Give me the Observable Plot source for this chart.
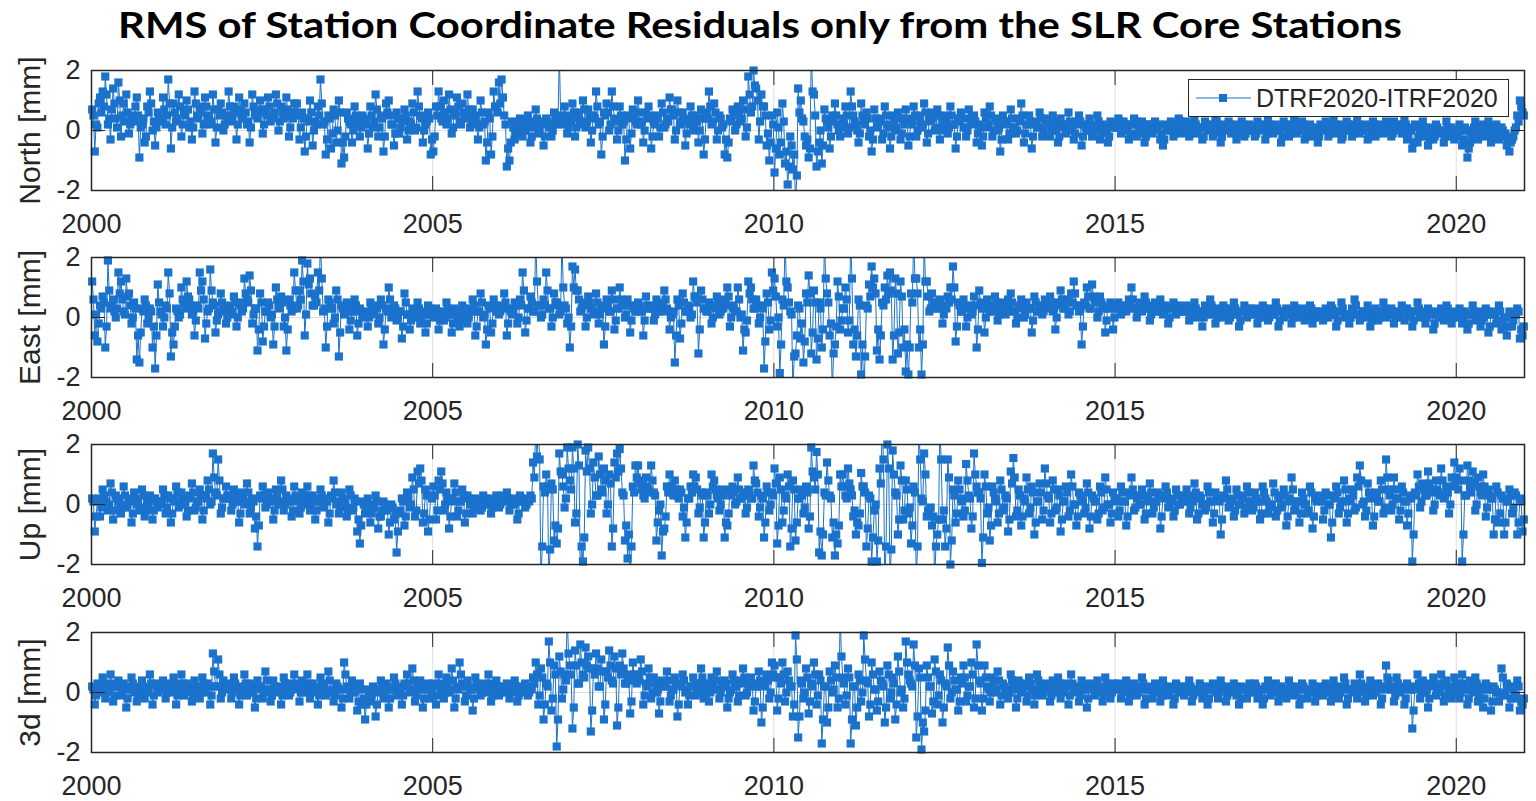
<!DOCTYPE html>
<html><head><meta charset="utf-8">
<script src="https://cdn.jsdelivr.net/npm/d3@7"></script>
<script src="https://cdn.jsdelivr.net/npm/@observablehq/plot@0.6"></script>
<style>
html,body{margin:0;padding:0;background:#fff;}
body{width:1536px;height:801px;overflow:hidden;position:relative;font-family:"Liberation Sans",Arial,Helvetica,sans-serif;}
.panel{position:absolute;left:0;}
#legend{position:absolute;left:1188px;top:79px;width:321px;height:38px;box-sizing:border-box;border:1.3px solid #262626;background:#fff;display:flex;align-items:center;z-index:5;}
#legend span{font-size:25px;color:#262626;white-space:nowrap;}
</style>
</head><body>
<svg id="title" width="1536" height="56" style="position:absolute;left:0;top:0">
  <text x="760" y="38" text-anchor="middle" font-family="Lato, 'Open Sans', sans-serif" font-weight="700" font-size="36" fill="#000" textLength="1284" lengthAdjust="spacingAndGlyphs">RMS of Station Coordinate Residuals only from the SLR Core Stations</text>
</svg>
<div id="charts"></div>
<div id="legend">
  <svg width="67" height="36"><line x1="7" y1="18" x2="62" y2="18" stroke="#1a72cc" stroke-width="1.2"/><rect x="30" y="14" width="8" height="8" fill="#1a72cc"/></svg>
  <span>DTRF2020-ITRF2020</span>
</div>
<script>
// ---- data: weekly solutions 2000.0 – 2021.0, stored as odd weeks (A) and even weeks (B), 26 of each per year ----
const startYear = 2000;
const weeksPerYear = 52;
const xTicks = [2000, 2005, 2010, 2015, 2020];
const yTicks = [-2, 0, 2];
const seriesName = "DTRF2020-ITRF2020";
const panelLabels = ["North [mm]", "East [mm]", "Up [mm]", "3d [mm]"];

const northA = [
0.7,-0.7,0.1,1.1,1.3,1.8,0.2,-0.3,1.4,0.4,1.6,-0.2,0.9,1.2,-0.1,0.5,0.3,1.1,-0.9,0.2,-0.4,0.8,1.3,0.0,-0.5,0.6,
0.4,1.1,0.2,1.7,-0.6,0.9,0.3,1.2,-0.2,0.6,1.0,0.1,-0.3,1.3,0.5,0.8,-0.1,1.1,0.4,0.2,1.2,-0.4,0.7,0.9,0.0,0.5,
1.3,0.3,0.8,-0.3,1.1,0.5,0.9,0.2,-0.4,1.2,0.6,0.4,1.0,-0.1,0.7,1.1,0.3,0.5,1.2,0.0,0.8,0.4,1.1,-0.2,0.6,0.9,
0.9,-0.3,0.6,-0.7,0.4,1.0,-0.5,0.3,0.8,1.7,0.2,-0.8,0.5,-0.6,0.7,-0.4,1.0,-1.1,-0.9,0.6,0.3,-0.4,0.8,0.2,-0.2,0.5,
0.3,-0.6,0.8,0.1,1.2,-0.2,0.5,-0.7,0.9,1.0,0.2,-0.5,0.6,-0.1,0.4,0.7,-0.3,0.3,0.9,0.0,1.3,0.5,-0.4,0.2,0.6,-0.8,
-0.7,0.8,1.3,0.4,1.0,0.2,1.2,-0.1,0.6,1.1,0.3,0.9,0.5,1.2,0.1,0.7,0.4,-0.3,1.0,0.2,-1.0,0.6,-0.8,1.3,0.8,1.6,
1.7,0.5,-1.2,-1.0,0.3,-0.3,0.1,0.4,-0.2,0.0,0.5,-0.4,0.2,0.7,-0.1,0.3,-0.5,0.4,0.1,-0.2,0.6,0.2,2.6,0.3,0.8,-0.1,
0.4,0.9,-0.2,0.6,0.3,1.0,0.1,0.7,-0.4,0.5,1.3,0.2,-0.8,0.6,0.9,0.0,1.3,0.4,-0.3,0.8,0.2,-1.0,0.5,-0.6,0.7,0.3,
1.0,0.2,-0.4,0.6,0.8,-0.6,0.3,0.5,-0.2,0.9,0.1,0.4,1.1,0.7,-0.3,1.0,0.2,0.6,-0.5,0.3,0.8,0.0,0.5,-0.4,0.7,-0.8,
0.6,1.3,0.2,0.9,-0.3,0.5,0.1,-0.8,-0.9,0.4,0.7,0.0,0.8,0.3,1.0,-0.2,1.8,0.6,2.0,1.4,-0.3,1.2,0.8,-0.5,-1.0,0.5,
-1.4,0.6,-0.8,0.9,-1.1,-1.8,-0.2,-1.3,-2.5,1.4,1.0,0.3,-0.5,-0.9,2.6,1.2,-1.2,-0.4,-1.1,0.7,0.3,-0.6,0.5,0.9,0.2,-0.2,
0.4,0.8,-0.1,1.3,0.5,0.2,-0.4,0.9,0.3,0.6,-0.2,-0.7,0.7,0.1,0.4,-0.3,0.8,0.2,-0.6,0.5,0.0,0.6,-0.3,0.4,0.7,-0.5,
0.3,0.8,-0.2,0.5,0.1,0.9,-0.4,0.4,0.6,0.0,0.7,-0.3,0.3,0.5,-0.1,0.8,0.2,-0.6,0.4,0.6,0.1,-0.2,0.7,0.3,0.5,-0.4,
0.2,-0.5,0.6,0.1,0.8,-0.2,0.4,0.0,-0.7,0.5,0.3,-0.3,0.7,0.1,-0.1,0.4,0.9,-0.4,0.2,0.5,-0.6,0.3,0.1,0.6,-0.2,0.4,
0.3,-0.2,0.5,0.0,-0.4,0.4,0.2,-0.1,0.6,0.1,-0.3,0.3,0.5,-0.5,0.2,0.0,0.4,-0.2,0.1,0.5,-0.3,0.2,0.0,-0.4,0.3,0.1,
0.2,0.4,-0.1,0.3,0.0,-0.3,0.2,0.4,-0.2,0.1,0.3,-0.4,0.0,0.2,-0.1,0.3,0.1,-0.3,-0.5,0.2,0.0,0.3,-0.2,0.1,0.4,-0.1,
0.0,0.3,-0.2,0.2,0.4,-0.1,0.1,-0.3,0.3,0.0,0.2,-0.2,0.4,0.1,-0.4,0.2,0.0,0.3,-0.1,0.2,-0.3,0.1,0.3,-0.2,0.0,0.2,
0.1,-0.2,0.3,0.0,0.2,-0.3,0.4,0.1,-0.1,0.2,0.0,-0.4,0.3,0.1,-0.2,0.2,0.4,-0.1,0.0,0.3,-0.3,0.1,0.2,-0.2,0.0,-0.4,
0.2,0.0,0.3,-0.2,0.1,0.4,-0.1,0.2,-0.3,0.0,0.3,0.1,-0.2,0.2,0.4,-0.1,0.0,0.2,-0.3,0.1,0.3,-0.2,0.0,0.2,-0.1,0.3,
0.1,-0.2,0.3,0.0,0.2,-0.1,0.4,-0.3,0.1,-0.6,0.2,-0.4,0.0,0.3,-0.2,-0.5,0.1,-0.3,0.2,-0.1,0.0,-0.4,0.3,-0.2,0.1,-0.3,
-0.2,0.2,-0.5,0.1,-0.9,-0.4,0.0,0.3,-0.3,-0.1,0.2,-0.2,0.3,-0.4,0.0,0.2,-0.3,0.1,-0.2,-0.5,-0.7,-0.3,0.0,0.5,1.0,0.6
];
const northB = [
0.5,0.2,0.9,0.6,0.8,1.2,0.4,0.7,0.9,0.1,1.0,0.5,0.3,0.6,0.2,0.4,0.8,0.5,0.1,0.4,-0.2,0.6,0.9,0.3,0.1,0.4,
0.3,0.7,0.5,0.9,0.1,0.6,0.4,0.8,0.2,0.5,0.7,0.3,0.1,0.9,0.4,0.6,0.2,0.8,0.5,0.3,0.7,0.1,0.5,0.6,0.2,0.4,
0.8,0.5,0.6,0.2,0.7,0.4,0.6,0.3,0.1,0.8,0.5,0.6,0.7,0.2,0.5,0.8,0.4,0.6,0.9,0.3,0.6,0.5,0.7,0.1,0.4,0.6,
0.5,0.1,0.4,-0.2,0.3,0.6,0.0,0.2,0.5,0.9,0.3,-0.3,0.4,-0.1,0.5,0.0,0.6,-0.4,-0.2,0.4,0.2,0.0,0.5,0.3,0.1,0.4,
0.2,-0.1,0.5,0.3,0.7,0.1,0.4,-0.2,0.6,0.5,0.2,-0.1,0.4,0.1,0.3,0.5,0.0,0.2,0.6,0.1,0.8,0.4,0.0,0.3,0.4,-0.3,
-0.2,0.5,0.8,0.3,0.6,0.4,0.7,0.1,0.5,0.8,0.2,0.6,0.4,0.7,0.3,0.5,0.2,0.1,0.6,0.3,-0.4,0.4,-0.2,0.8,0.6,0.9,
1.1,0.2,-0.6,-0.4,0.1,-0.1,0.2,0.3,0.0,0.1,0.3,-0.2,0.1,0.4,0.0,0.2,-0.2,0.3,0.2,0.0,0.4,0.3,0.5,0.2,0.5,0.1,
0.3,0.6,0.1,0.4,0.2,0.7,0.3,0.5,0.0,0.4,0.8,0.3,-0.2,0.5,0.6,0.2,0.8,0.3,0.0,0.5,0.3,-0.3,0.4,-0.1,0.5,0.2,
0.6,0.3,0.0,0.4,0.5,-0.2,0.2,0.4,0.1,0.6,0.2,0.3,0.7,0.5,0.0,0.6,0.3,0.4,-0.1,0.2,0.5,0.1,0.3,0.0,0.4,-0.3,
0.4,0.8,0.3,0.6,0.0,0.4,0.2,-0.3,-0.4,0.3,0.5,0.2,0.6,0.4,0.7,0.1,1.2,0.8,1.5,1.0,0.3,0.8,0.5,-0.1,-0.4,0.2,
-0.6,0.1,-0.4,0.3,-0.7,-1.2,-0.5,-0.8,-1.5,0.6,0.4,-0.2,-0.3,-0.6,1.3,0.5,-0.7,0.0,-0.5,0.4,0.1,-0.2,0.3,0.5,0.0,0.1,
0.2,0.5,0.1,0.8,0.3,0.0,-0.1,0.5,0.2,0.4,0.0,-0.3,0.4,0.2,0.3,-0.1,0.5,0.1,-0.2,0.3,0.1,0.4,-0.1,0.2,0.4,-0.2,
0.2,0.5,0.0,0.3,0.2,0.6,-0.1,0.3,0.4,0.1,0.5,0.0,0.2,0.3,0.1,0.5,0.2,-0.2,0.3,0.4,0.1,0.0,0.4,0.2,0.3,-0.1,
0.1,-0.2,0.4,0.2,0.5,0.0,0.3,0.1,-0.3,0.3,0.2,-0.1,0.4,0.1,0.0,0.3,0.5,-0.1,0.2,0.3,-0.2,0.2,0.1,0.4,0.0,0.2,
0.2,0.0,0.3,0.1,-0.2,0.2,0.1,0.0,0.3,0.1,-0.1,0.2,0.3,-0.2,0.1,0.0,0.2,-0.1,0.1,0.3,-0.1,0.1,0.0,-0.2,0.2,0.1,
0.1,0.3,0.0,0.2,0.1,-0.1,0.2,0.3,-0.1,0.0,0.2,-0.2,0.1,0.2,0.0,0.1,0.2,-0.1,-0.3,0.1,0.0,0.2,-0.1,0.1,0.3,0.0,
0.1,0.2,-0.1,0.1,0.2,0.0,0.1,-0.2,0.2,0.1,0.1,-0.1,0.3,0.0,-0.2,0.1,0.1,0.2,0.0,0.1,-0.1,0.0,0.2,-0.1,0.1,0.1,
0.0,-0.1,0.2,0.1,0.1,-0.1,0.2,0.0,0.0,0.1,0.1,-0.2,0.2,0.0,-0.1,0.1,0.2,0.0,0.1,0.2,-0.2,0.0,0.1,-0.1,0.1,-0.2,
0.1,0.1,0.2,-0.1,0.0,0.2,0.0,0.1,-0.2,0.1,0.2,0.0,-0.1,0.1,0.2,0.0,0.1,0.1,-0.2,0.0,0.2,-0.1,0.1,0.1,0.0,0.2,
0.0,-0.1,0.2,0.1,0.1,0.0,0.2,-0.2,0.0,-0.4,0.1,-0.2,0.0,0.1,-0.1,-0.3,0.0,-0.2,0.1,0.0,-0.1,-0.2,0.1,-0.1,0.0,-0.2,
-0.1,0.0,-0.3,0.0,-0.6,-0.2,0.1,0.1,-0.2,0.0,0.1,-0.1,0.1,-0.2,0.0,0.1,-0.2,0.0,-0.1,-0.3,-0.4,-0.2,0.1,0.3,0.8,0.5
];

const eastA = [
1.2,-0.6,-0.8,0.4,0.7,-1.0,1.9,0.3,0.6,0.0,1.5,1.2,0.2,1.3,0.8,-0.2,0.5,-1.4,-1.5,0.3,0.6,-0.2,0.3,-1.0,-1.7,1.1,
0.2,-0.3,0.4,1.5,-1.3,-0.9,0.3,0.0,1.0,0.5,1.2,0.6,0.1,-0.6,0.4,1.5,1.2,-0.7,0.2,1.6,0.5,-0.5,0.1,0.8,0.3,-0.2,
0.4,0.1,0.7,-0.3,0.5,0.2,1.3,0.6,1.4,-0.2,0.3,-1.1,0.8,-0.8,0.2,0.5,0.0,-0.9,1.0,0.4,0.7,-0.3,-1.1,0.6,0.2,1.5,
0.3,0.9,1.9,-0.6,1.8,1.3,0.4,0.7,1.5,2.6,0.2,-1.0,0.6,0.3,-0.2,0.9,-1.3,0.4,0.1,0.5,-0.4,0.2,0.6,-0.6,0.3,0.0,
0.2,-0.3,0.5,0.1,0.4,-0.2,0.6,-0.9,0.3,1.0,0.0,0.4,-0.1,0.2,-0.7,0.8,0.1,-0.4,0.3,0.0,0.5,-0.2,0.2,-0.5,0.4,0.1,
0.0,0.3,-0.4,0.2,-0.1,0.5,0.1,-0.5,0.3,0.0,-0.3,0.4,0.1,-0.2,0.3,0.6,-0.6,0.2,0.8,0.0,-0.9,0.4,-0.5,0.6,0.2,0.1,
0.4,0.8,-0.6,0.3,0.1,0.5,-0.2,0.6,1.5,-0.5,0.3,0.7,0.2,2.6,0.4,0.0,0.6,1.5,0.3,-0.3,0.8,0.5,0.1,2.6,0.4,-0.2,
-1.0,1.7,1.6,0.9,0.2,0.5,-0.3,0.7,0.3,0.1,0.8,-0.2,0.4,-0.9,0.6,0.2,0.9,-0.4,0.3,1.0,0.5,0.0,0.6,-0.5,0.4,0.2,
0.5,0.2,-0.6,0.7,0.3,0.4,-0.1,0.6,0.2,0.5,0.9,0.3,-0.4,0.1,-1.5,0.6,-0.7,0.8,0.2,0.4,0.0,1.2,0.7,-1.2,0.9,0.3,
0.2,0.5,-0.2,0.4,0.7,0.1,0.3,0.6,1.0,-0.3,0.4,0.2,1.0,0.0,-1.1,-0.5,1.2,1.0,0.3,0.6,-0.2,0.4,-1.7,0.8,-0.4,1.5,
1.3,-0.3,-1.85,0.6,2.6,1.0,0.2,-2.5,-1.2,0.4,-0.7,-1.5,0.8,1.4,-1.2,0.9,-1.4,0.5,-1.0,2.6,0.8,-0.6,-2.5,-0.9,1.2,-0.4,
0.3,1.0,-0.5,2.6,-0.9,-1.3,0.6,-1.9,-2.5,0.4,1.1,1.7,1.3,-1.1,-1.4,0.5,1.0,1.4,1.5,-1.4,1.3,-1.2,1.2,-1.0,-1.8,-1.9,
0.8,2.6,1.3,-1.0,-1.9,2.6,1.2,0.2,0.8,0.5,0.3,0.6,-0.2,0.4,0.7,1.0,1.7,-0.8,0.5,0.2,0.6,-0.3,0.4,0.1,0.7,-1.0,
0.9,0.3,-0.5,0.6,0.2,0.4,0.7,-0.1,0.3,0.5,0.1,0.6,0.8,0.2,-0.2,0.4,0.6,0.0,0.5,0.3,-0.5,0.7,0.2,0.4,0.1,0.6,
0.4,0.7,0.2,-0.4,0.5,0.9,0.3,0.6,0.1,0.8,1.2,0.4,0.2,-0.9,0.5,1.0,0.3,1.1,0.6,0.0,0.7,0.4,-0.5,0.3,0.5,-0.4,
0.3,0.5,0.1,0.4,0.2,0.6,1.0,0.3,0.0,0.5,0.2,0.7,0.4,-0.1,0.3,0.5,0.2,0.6,0.1,0.4,-0.2,0.3,0.5,0.1,0.4,0.2,
0.2,0.4,-0.1,0.3,0.5,0.0,0.2,-0.3,0.4,0.1,0.6,0.2,-0.2,0.3,0.0,0.4,0.2,-0.1,0.3,0.5,0.1,-0.3,0.2,0.4,0.0,0.3,
0.1,0.3,-0.2,0.2,0.4,0.0,-0.1,0.3,0.1,0.5,-0.3,0.2,0.0,0.3,0.1,-0.2,0.4,0.2,0.0,0.3,-0.1,0.1,0.4,-0.2,0.2,0.0,
0.2,-0.1,0.3,0.0,0.4,0.1,-0.3,0.2,0.5,0.0,0.1,-0.2,0.3,0.6,0.1,-0.1,0.2,0.0,0.4,-0.3,0.1,0.3,-0.1,0.2,0.5,0.0,
0.1,0.3,-0.2,0.2,0.0,0.4,-0.1,0.3,0.1,-0.3,0.2,0.5,0.0,0.2,-0.2,0.3,0.1,-0.4,0.2,0.0,0.3,-0.1,0.4,0.1,-0.2,0.2,
0.0,0.3,-0.2,0.2,-0.4,0.1,0.4,-0.1,0.2,-0.3,0.0,0.3,-0.5,0.1,0.2,-0.2,0.4,-0.4,0.0,-0.6,0.2,-0.3,0.1,0.3,-0.7,-0.6
];
const eastB = [
0.6,0.1,-0.2,0.3,0.5,-0.3,0.9,0.4,0.2,0.3,0.8,0.6,0.1,0.7,0.4,0.0,0.3,-0.6,-0.5,0.2,0.4,0.0,0.2,-0.3,-0.6,0.5,
0.1,0.0,0.3,0.8,-0.5,-0.3,0.2,0.1,0.6,0.3,0.7,0.4,0.2,-0.1,0.3,0.9,0.6,-0.2,0.3,0.9,0.4,-0.1,0.2,0.5,0.2,0.0,
0.3,0.2,0.5,0.0,0.4,0.3,0.8,0.5,0.9,0.1,0.3,-0.4,0.5,-0.3,0.2,0.4,0.1,-0.3,0.6,0.3,0.5,0.0,-0.4,0.4,0.3,0.9,
0.4,0.6,1.2,0.1,1.1,0.8,0.4,0.5,0.9,1.3,0.3,-0.3,0.5,0.3,0.0,0.6,-0.5,0.3,0.2,0.4,-0.1,0.2,0.4,-0.2,0.2,0.1,
0.1,0.0,0.3,0.2,0.3,0.0,0.4,-0.4,0.2,0.6,0.1,0.3,0.0,0.2,-0.3,0.5,0.1,-0.1,0.2,0.1,0.3,0.0,0.1,-0.2,0.3,0.1,
0.1,0.2,-0.1,0.1,0.0,0.3,0.1,-0.2,0.2,0.1,-0.1,0.3,0.1,0.0,0.2,0.4,-0.3,0.2,0.5,0.1,-0.4,0.3,-0.2,0.4,0.2,0.2,
0.3,0.5,-0.2,0.2,0.2,0.4,0.0,0.4,0.9,-0.1,0.3,0.5,0.2,1.2,0.4,0.1,0.4,0.9,0.3,0.0,0.5,0.4,0.2,1.0,0.3,0.0,
-0.3,1.0,0.9,0.6,0.3,0.4,0.0,0.5,0.3,0.2,0.5,0.1,0.3,-0.3,0.4,0.2,0.6,-0.1,0.3,0.6,0.4,0.1,0.4,-0.1,0.3,0.2,
0.4,0.2,-0.1,0.4,0.3,0.3,0.1,0.4,0.2,0.4,0.6,0.2,0.0,0.2,-0.6,0.4,-0.2,0.5,0.2,0.3,0.1,0.7,0.5,-0.4,0.6,0.3,
0.2,0.4,0.0,0.3,0.5,0.2,0.3,0.4,0.7,0.0,0.3,0.2,0.6,0.1,-0.4,-0.1,0.8,0.6,0.3,0.4,0.0,0.3,-0.8,0.5,-0.1,0.9,
0.7,0.0,-0.9,0.4,1.2,0.5,0.1,-1.3,-0.6,0.3,-0.2,-0.8,0.5,0.8,-0.5,0.5,-0.7,0.3,-0.4,1.3,0.5,-0.2,-1.2,-0.3,0.7,-0.1,
0.3,0.6,-0.1,1.3,-0.4,-0.6,0.4,-0.9,-1.3,0.3,0.7,1.0,0.8,-0.4,-0.6,0.4,0.6,0.8,0.9,-0.6,0.8,-0.5,0.7,-0.4,-0.9,-1.0,
0.5,1.3,0.8,-0.4,-0.9,1.2,0.7,0.3,0.5,0.4,0.3,0.4,0.1,0.3,0.5,0.6,1.0,-0.3,0.4,0.2,0.4,0.0,0.3,0.2,0.4,-0.4,
0.5,0.3,0.0,0.4,0.2,0.3,0.5,0.1,0.3,0.4,0.2,0.4,0.5,0.2,0.0,0.3,0.4,0.1,0.3,0.3,-0.1,0.5,0.2,0.3,0.2,0.4,
0.3,0.5,0.3,0.0,0.4,0.6,0.3,0.5,0.2,0.5,0.8,0.4,0.3,-0.3,0.4,0.7,0.3,0.7,0.5,0.2,0.5,0.3,-0.1,0.3,0.4,0.0,
0.3,0.4,0.2,0.3,0.3,0.5,0.6,0.3,0.2,0.4,0.3,0.5,0.3,0.1,0.3,0.4,0.2,0.4,0.2,0.3,0.0,0.3,0.4,0.2,0.3,0.2,
0.2,0.3,0.1,0.2,0.3,0.1,0.2,0.0,0.3,0.1,0.4,0.2,0.0,0.2,0.1,0.3,0.2,0.0,0.2,0.3,0.1,-0.1,0.2,0.3,0.1,0.2,
0.1,0.2,0.0,0.2,0.3,0.1,0.0,0.2,0.1,0.3,-0.1,0.2,0.1,0.2,0.1,0.0,0.3,0.1,0.1,0.2,0.0,0.1,0.3,0.0,0.2,0.1,
0.1,0.0,0.2,0.1,0.3,0.1,-0.1,0.2,0.3,0.1,0.1,0.0,0.2,0.4,0.1,0.0,0.2,0.1,0.2,-0.1,0.1,0.2,0.0,0.2,0.3,0.1,
0.1,0.2,0.0,0.1,0.1,0.3,0.0,0.2,0.1,-0.1,0.2,0.3,0.1,0.1,0.0,0.2,0.1,-0.2,0.1,0.1,0.2,0.0,0.3,0.1,0.0,0.1,
0.1,0.2,-0.1,0.1,-0.2,0.1,0.2,0.0,0.1,-0.1,0.1,0.2,-0.3,0.1,0.1,-0.1,0.2,-0.2,0.0,-0.3,0.1,-0.1,0.1,0.2,-0.4,-0.3
];

const upA = [
0.2,-0.9,0.1,-0.4,0.5,0.0,-0.2,0.7,-0.5,0.3,0.1,-0.3,0.6,-0.1,0.2,-0.6,0.4,0.0,-0.2,0.5,-0.4,0.1,0.3,-0.5,0.2,-0.1,
0.1,0.5,-0.3,0.3,-0.6,0.2,0.6,-0.1,0.4,0.0,-0.4,0.3,0.7,-0.2,0.1,0.5,-0.5,0.3,0.8,0.0,1.7,0.4,1.5,-0.3,0.2,0.6,
0.3,-0.2,0.5,0.1,-0.6,0.4,0.0,0.7,-0.3,0.2,-0.8,-1.4,0.3,0.6,-0.1,0.4,0.2,-0.5,0.5,0.0,0.8,-0.2,0.3,0.1,-0.4,0.6,
0.2,-0.3,0.4,0.0,0.6,-0.2,0.3,-0.5,0.1,0.5,-0.1,0.2,-0.6,0.3,0.8,0.0,-0.3,0.4,0.1,-0.4,0.5,-0.2,0.2,-0.9,-1.3,0.1,
-0.3,0.2,-0.6,-0.1,0.3,-0.8,-0.4,0.1,-0.2,-1.0,0.0,-0.5,-1.6,-0.3,0.2,-0.7,0.4,-0.1,0.9,-0.4,1.1,1.2,-0.6,0.5,-0.9,0.3,
0.6,-0.5,0.8,1.1,-0.2,0.4,-0.8,0.2,0.7,-0.4,0.1,0.5,-0.6,0.3,0.0,-0.3,0.2,0.1,-0.2,0.3,0.0,0.2,-0.3,0.1,0.3,-0.1,
0.3,0.1,0.4,-0.2,0.2,0.0,-0.5,0.3,0.1,-0.1,0.2,0.3,1.4,2.6,2.6,-2.6,0.6,1.0,-2.5,0.7,-1.2,-1.3,1.7,1.0,-0.1,1.9,
0.8,1.9,-0.6,2.0,-2.5,-1.9,1.8,1.9,-0.3,1.4,0.3,1.6,0.5,1.2,-0.3,1.0,-1.4,1.4,1.7,1.85,0.4,-1.2,-1.8,-2.5,0.6,1.3,
1.3,0.7,0.3,0.9,0.5,1.3,0.4,-1.2,-0.2,-1.7,-0.8,0.6,1.0,0.4,0.8,0.3,0.5,-0.4,-1.1,0.2,0.6,1.0,0.9,-0.3,0.4,-1.1,
0.4,-0.3,1.0,0.8,0.3,-0.2,0.5,-1.1,-0.7,0.5,0.6,0.0,0.9,0.2,0.4,-0.3,0.5,0.2,1.3,0.7,-0.4,0.3,-1.1,0.6,-0.2,0.4,
1.2,-1.3,0.9,-0.6,0.3,1.0,-1.4,0.8,-1.2,0.2,0.5,-0.3,0.6,-0.8,1.9,0.9,1.75,-1.6,-1.7,0.4,1.4,0.3,-1.1,-1.7,-1.3,1.0,
1.0,0.3,1.2,0.5,-0.4,-1.0,-0.7,1.05,0.6,-1.4,0.3,-1.9,-0.2,-1.9,1.2,2.6,-2.5,2.0,-2.5,1.8,0.4,-1.0,1.3,-0.5,0.8,-0.3,
-1.3,0.6,-2.5,2.6,0.2,1.7,-0.4,-0.3,-0.7,-2.5,-1.0,2.6,-0.5,-1.4,1.5,-2.0,0.5,-0.6,0.8,0.2,-0.4,1.35,0.3,-0.8,1.7,0.6,
0.4,-1.95,1.0,-0.3,-1.2,0.6,0.2,-0.6,0.8,-0.2,0.3,-0.9,1.1,1.55,-0.4,0.5,-0.7,0.2,0.9,-0.3,0.6,-1.0,0.1,0.7,-0.5,1.2,
0.3,-0.6,0.8,-0.2,0.5,-0.9,0.1,0.6,-0.4,1.0,0.0,-0.7,0.4,0.2,-0.3,0.7,-0.8,0.3,0.1,-0.5,0.6,-0.2,0.9,0.0,-0.6,0.4,
0.2,-0.4,0.6,0.1,-0.7,0.4,0.9,-0.2,0.3,0.0,0.5,-0.5,0.2,0.7,-0.3,0.1,0.4,-0.8,0.3,0.6,-0.1,0.2,-0.4,0.5,0.0,0.3,
0.1,0.5,-0.3,0.2,0.7,-0.5,0.3,0.0,-0.2,0.6,0.1,-0.6,0.4,0.2,-1.0,0.3,0.8,-0.1,0.2,-0.4,0.5,0.0,0.3,-0.3,0.6,0.1,
-0.2,0.4,0.1,-0.5,0.6,0.2,-0.3,0.0,0.7,-0.4,0.3,-0.1,0.5,-0.7,0.2,0.9,-0.2,0.1,-0.6,0.4,0.0,-0.3,0.6,-0.8,0.2,0.3,
0.2,-0.5,0.4,0.0,-1.1,0.3,0.6,-0.3,0.1,0.8,-0.6,0.2,0.5,-0.2,0.9,1.3,0.0,-0.4,0.7,0.3,-0.7,0.4,0.1,0.8,-0.3,1.5,
0.5,-0.2,0.9,0.2,-0.5,0.6,0.1,-0.7,0.3,-1.9,0.4,1.0,-0.1,0.7,0.3,1.1,0.5,-0.2,0.8,0.4,1.2,0.2,0.6,-0.3,0.9,1.4,
0.8,1.2,-1.9,0.3,1.3,0.6,1.1,-0.2,0.9,0.4,1.0,-0.4,0.5,0.2,-1.0,0.6,-0.6,0.3,-1.0,0.1,0.5,-0.3,0.4,-1.0,0.2,-0.9
];
const upB = [
0.1,-0.4,0.2,-0.1,0.3,0.1,0.0,0.4,-0.2,0.2,0.0,-0.1,0.3,0.0,0.1,-0.3,0.2,0.1,-0.1,0.3,-0.2,0.0,0.2,-0.2,0.1,0.0,
0.1,0.3,-0.1,0.2,-0.3,0.1,0.4,0.0,0.2,0.1,-0.2,0.2,0.4,-0.1,0.1,0.3,-0.2,0.2,0.5,0.1,0.9,0.3,0.8,-0.1,0.2,0.3,
0.2,0.0,0.3,0.1,-0.3,0.2,0.1,0.4,-0.1,0.1,-0.4,-0.7,0.2,0.3,0.0,0.2,0.1,-0.2,0.3,0.1,0.5,0.0,0.2,0.1,-0.2,0.3,
0.1,-0.1,0.2,0.1,0.3,0.0,0.2,-0.2,0.1,0.3,0.0,0.1,-0.3,0.2,0.4,0.1,-0.1,0.2,0.0,-0.2,0.3,-0.1,0.1,-0.5,-0.7,0.0,
-0.2,0.0,-0.3,-0.1,0.1,-0.4,-0.2,0.0,-0.1,-0.6,-0.1,-0.3,-0.9,-0.2,0.1,-0.4,0.2,0.0,0.5,-0.2,0.7,0.8,-0.3,0.3,-0.5,0.2,
0.3,-0.2,0.5,0.7,0.0,0.2,-0.4,0.1,0.4,-0.2,0.1,0.3,-0.3,0.2,0.0,-0.1,0.1,0.1,-0.1,0.2,0.0,0.1,-0.1,0.1,0.2,0.0,
0.2,0.1,0.2,0.0,0.1,0.1,-0.3,0.2,0.1,0.0,0.1,0.2,0.9,1.6,1.5,-1.4,0.4,0.6,-1.5,0.5,-0.7,-0.8,1.1,0.6,0.2,1.2,
0.5,1.2,-0.3,1.3,-1.4,-1.1,1.1,1.2,0.0,0.9,0.3,1.0,0.4,0.8,0.0,0.7,-0.8,0.9,1.1,1.2,0.3,-0.7,-1.0,-1.4,0.4,0.9,
0.8,0.5,0.2,0.6,0.4,0.8,0.3,-0.6,0.0,-0.9,-0.4,0.4,0.6,0.3,0.5,0.2,0.4,-0.1,-0.6,0.2,0.4,0.6,0.5,-0.1,0.3,-0.6,
0.3,0.0,0.6,0.5,0.2,0.0,0.3,-0.6,-0.3,0.3,0.4,0.1,0.5,0.2,0.3,-0.1,0.3,0.2,0.8,0.4,-0.1,0.2,-0.6,0.4,0.0,0.3,
0.7,-0.7,0.5,-0.2,0.2,0.6,-0.8,0.5,-0.6,0.2,0.3,-0.1,0.4,-0.4,1.1,0.5,1.0,-0.9,-1.0,0.3,0.8,0.2,-0.6,-1.0,-0.7,0.6,
0.6,0.2,0.7,0.3,-0.2,-0.6,-0.3,0.6,0.4,-0.8,0.2,-1.1,0.0,-1.2,0.7,1.5,-1.4,1.2,-1.5,1.0,0.3,-0.5,0.8,-0.2,0.5,-0.1,
-0.7,0.4,-1.4,1.5,0.1,1.0,-0.2,-0.1,-0.4,-1.4,-0.5,1.5,-0.2,-0.8,0.9,-1.2,0.3,-0.3,0.5,0.1,-0.2,0.8,0.2,-0.4,1.0,0.4,
0.2,-1.1,0.6,-0.1,-0.7,0.4,0.1,-0.3,0.5,-0.1,0.2,-0.5,0.7,0.9,-0.2,0.3,-0.4,0.1,0.5,-0.1,0.4,-0.6,0.1,0.4,-0.2,0.7,
0.2,-0.3,0.5,-0.1,0.3,-0.5,0.1,0.4,-0.2,0.6,0.0,-0.4,0.3,0.1,-0.1,0.4,-0.4,0.2,0.1,-0.3,0.4,-0.1,0.5,0.0,-0.3,0.2,
0.1,-0.2,0.4,0.1,-0.4,0.3,0.5,-0.1,0.2,0.0,0.3,-0.3,0.1,0.4,-0.1,0.1,0.3,-0.4,0.2,0.4,0.0,0.1,-0.2,0.3,0.0,0.2,
0.1,0.3,-0.1,0.1,0.4,-0.3,0.2,0.0,-0.1,0.4,0.1,-0.3,0.2,0.1,-0.5,0.2,0.5,0.0,0.1,-0.2,0.3,0.0,0.2,-0.1,0.4,0.1,
-0.1,0.2,0.1,-0.3,0.4,0.1,-0.1,0.0,0.4,-0.2,0.2,0.0,0.3,-0.4,0.1,0.5,-0.1,0.1,-0.3,0.2,0.0,-0.2,0.4,-0.4,0.1,0.2,
0.1,-0.2,0.3,0.0,-0.6,0.2,0.4,-0.1,0.1,0.5,-0.3,0.1,0.3,-0.1,0.6,0.8,0.1,-0.2,0.4,0.2,-0.4,0.3,0.1,0.5,-0.1,0.9,
0.3,0.0,0.5,0.2,-0.2,0.4,0.1,-0.3,0.2,-1.0,0.3,0.6,0.1,0.5,0.3,0.7,0.4,0.0,0.5,0.3,0.8,0.3,0.4,0.0,0.6,0.9,
0.5,0.8,-1.0,0.3,0.8,0.4,0.7,0.0,0.6,0.3,0.6,-0.1,0.3,0.2,-0.5,0.4,-0.3,0.2,-0.6,0.1,0.3,-0.1,0.3,-0.6,0.1,-0.5
];

const total3dA = [
0.2,-0.4,0.3,0.0,0.5,-0.2,0.1,0.6,-0.3,0.2,0.4,-0.1,0.3,-0.5,0.1,0.5,0.0,-0.3,0.2,0.4,-0.2,0.1,0.6,-0.4,0.3,0.0,
0.1,0.4,-0.2,0.3,0.0,0.5,-0.4,0.2,0.6,-0.1,0.3,0.1,-0.3,0.4,0.2,-0.2,0.5,0.0,0.3,-0.4,1.3,0.2,1.1,-0.2,0.4,0.1,
0.3,-0.2,0.5,0.1,-0.4,0.2,0.6,-0.1,0.3,0.0,-0.5,0.4,0.2,-0.2,0.7,0.1,-0.3,0.4,0.0,0.2,-0.4,0.5,0.1,-0.1,0.3,0.6,
0.2,-0.3,0.4,0.0,0.6,-0.2,0.3,0.1,-0.4,0.5,0.2,-0.1,0.7,0.0,-0.3,0.3,0.1,-0.5,1.0,0.2,-0.2,0.4,0.0,-0.6,0.3,-0.4,
-0.9,0.1,-0.3,0.2,-0.8,0.0,0.4,-0.2,0.3,-0.5,0.1,0.5,-0.1,0.2,-0.4,0.3,0.6,0.0,0.8,-0.3,0.2,0.4,-0.5,0.1,0.3,-0.2,
0.3,-0.4,0.6,0.1,-0.2,0.5,0.0,0.8,-0.5,0.2,1.0,0.3,-0.3,0.4,0.1,-0.6,0.5,0.2,-0.1,0.3,0.0,0.6,-0.3,0.2,0.4,-0.1,
0.2,0.0,0.3,-0.2,0.1,0.4,-0.3,0.2,0.0,0.3,-0.1,0.2,0.5,1.0,-0.4,0.8,-0.9,0.3,1.7,-0.6,0.9,-1.8,1.2,-0.2,0.6,2.6,
0.9,-1.2,1.4,0.3,1.6,0.6,1.5,1.2,-1.3,0.8,1.3,0.2,1.1,-0.9,0.7,1.4,0.4,1.2,-1.1,0.9,1.3,0.3,0.6,-0.7,1.0,0.4,
0.6,1.1,-0.4,0.3,0.8,-0.2,0.5,0.0,-0.7,0.4,0.2,0.7,-0.3,0.1,0.5,-0.8,0.3,0.6,0.0,-0.4,0.2,0.5,-0.1,0.3,0.8,-0.2,
0.3,-0.3,0.5,0.1,0.7,-0.2,0.2,0.4,-0.5,0.0,0.6,0.2,-0.3,0.4,0.8,-0.1,0.3,0.5,-0.6,0.2,0.7,-1.0,0.3,0.6,-0.2,1.0,
0.9,-0.6,0.5,1.0,-0.3,0.7,0.2,-0.8,1.9,-1.5,0.4,-0.2,0.8,-0.7,0.3,1.0,-0.4,0.6,-1.7,0.2,-1.0,0.7,0.0,0.9,-0.5,2.6,
0.5,-0.4,0.8,-1.7,0.2,-1.1,0.6,-0.3,1.9,0.4,-0.8,1.0,0.1,-0.6,0.7,0.3,-1.0,0.9,-0.2,0.5,-0.9,1.2,0.0,-0.5,1.7,0.6,
0.3,1.6,-1.5,0.8,-1.9,-1.3,0.9,0.2,-0.7,1.1,-0.4,0.6,-1.0,0.3,1.5,-0.2,0.7,0.1,-0.6,0.5,0.9,-0.3,0.2,1.0,-0.5,1.6,
0.4,-0.6,0.9,0.2,-0.3,0.5,0.0,0.7,-0.4,0.3,0.1,-0.2,0.6,0.2,-0.5,0.4,0.0,0.3,-0.3,0.5,0.1,-0.4,0.6,0.2,-0.1,0.3,
0.2,-0.3,0.4,0.0,0.5,-0.2,0.1,0.3,-0.4,0.6,0.0,0.2,-0.3,0.4,0.1,-0.5,0.3,0.2,-0.1,0.4,0.0,-0.3,0.5,0.1,-0.2,0.3,
0.1,0.3,-0.2,0.2,0.4,-0.3,0.0,0.3,-0.1,0.2,0.5,-0.4,0.1,0.2,-0.2,0.3,0.0,-0.3,0.4,0.1,-0.1,0.2,-0.4,0.3,0.0,0.2,
-0.1,0.2,0.4,-0.3,0.1,0.0,0.3,-0.2,0.2,-0.4,0.1,0.3,0.0,-0.2,0.4,0.1,-0.3,0.2,0.0,0.3,-0.1,-0.4,0.2,0.1,-0.2,0.3,
0.0,0.3,-0.2,0.1,-0.4,0.2,0.4,-0.1,0.0,0.3,-0.3,0.2,0.1,-0.2,0.4,0.0,-0.1,0.2,-0.4,0.3,0.1,-0.2,0.0,0.3,-0.3,0.1,
0.2,-0.1,0.3,0.0,-0.3,0.4,0.1,-0.2,0.2,0.5,-0.4,0.1,0.0,0.3,-0.2,0.6,0.1,-0.3,0.2,0.4,-0.1,0.0,0.3,-0.4,0.2,0.9,
0.4,0.1,-0.3,0.5,0.0,0.2,-0.4,0.3,0.1,-1.2,0.2,0.6,-0.2,0.4,0.0,-0.5,0.3,0.5,-0.1,0.2,0.6,-0.3,0.4,0.1,-0.2,0.5,
0.3,-0.2,0.6,0.1,-0.4,0.4,0.0,0.5,-0.3,0.2,-0.5,0.3,0.1,-0.6,0.2,0.0,-0.3,0.8,-0.1,0.3,-0.5,0.2,-0.2,0.4,-0.6,-0.4
];
const total3dB = [
0.1,-0.1,0.2,0.1,0.3,0.0,0.1,0.3,-0.1,0.2,0.2,0.0,0.2,-0.2,0.1,0.3,0.1,-0.1,0.1,0.2,0.0,0.1,0.3,-0.1,0.2,0.1,
0.1,0.2,0.0,0.2,0.1,0.3,-0.1,0.1,0.3,0.0,0.2,0.1,-0.1,0.2,0.1,0.0,0.3,0.1,0.2,-0.1,0.7,0.2,0.6,0.0,0.2,0.1,
0.2,0.0,0.3,0.1,-0.1,0.1,0.3,0.0,0.2,0.1,-0.2,0.2,0.1,0.0,0.4,0.1,-0.1,0.2,0.1,0.1,-0.1,0.3,0.1,0.0,0.2,0.3,
0.1,0.0,0.2,0.1,0.3,0.0,0.2,0.1,-0.1,0.3,0.1,0.0,0.4,0.1,-0.1,0.2,0.1,-0.2,0.6,0.1,0.0,0.2,0.1,-0.3,0.1,-0.2,
-0.4,0.0,-0.1,0.1,-0.4,0.1,0.2,0.0,0.2,-0.2,0.1,0.3,0.0,0.1,-0.1,0.2,0.3,0.1,0.4,-0.1,0.1,0.2,-0.2,0.1,0.2,0.0,
0.2,-0.1,0.3,0.1,0.0,0.3,0.1,0.4,-0.2,0.1,0.6,0.2,-0.1,0.2,0.1,-0.2,0.3,0.1,0.0,0.2,0.1,0.3,-0.1,0.1,0.2,0.0,
0.1,0.1,0.2,0.0,0.1,0.2,-0.1,0.1,0.1,0.2,0.0,0.1,0.3,0.6,-0.1,0.5,-0.4,0.2,1.0,-0.2,0.6,-0.9,0.7,0.1,0.4,1.3,
0.6,-0.5,0.9,0.3,1.0,0.5,0.9,0.8,-0.6,0.6,0.8,0.2,0.7,-0.4,0.5,0.9,0.3,0.8,-0.5,0.6,0.8,0.3,0.4,-0.3,0.6,0.3,
0.4,0.7,-0.1,0.2,0.5,0.0,0.3,0.1,-0.3,0.3,0.2,0.4,-0.1,0.1,0.3,-0.4,0.2,0.4,0.1,-0.1,0.2,0.3,0.0,0.2,0.5,0.0,
0.2,0.0,0.3,0.1,0.4,0.0,0.2,0.3,-0.2,0.1,0.4,0.2,-0.1,0.3,0.5,0.0,0.2,0.3,-0.3,0.2,0.4,-0.5,0.2,0.4,0.0,0.6,
0.5,-0.2,0.3,0.6,0.0,0.4,0.2,-0.4,1.1,-0.8,0.3,0.0,0.5,-0.3,0.2,0.6,-0.1,0.4,-0.9,0.2,-0.5,0.4,0.1,0.5,-0.2,1.2,
0.3,-0.1,0.5,-0.9,0.2,-0.5,0.4,0.0,1.1,0.3,-0.4,0.6,0.1,-0.3,0.4,0.2,-0.5,0.6,0.0,0.3,-0.4,0.7,0.1,-0.2,1.0,0.4,
0.2,0.9,-0.8,0.5,-1.0,-0.6,0.5,0.2,-0.3,0.7,-0.1,0.4,-0.5,0.2,0.9,0.0,0.4,0.1,-0.3,0.3,0.5,-0.1,0.2,0.6,-0.2,0.9,
0.3,-0.2,0.5,0.1,0.0,0.3,0.1,0.4,-0.1,0.2,0.1,0.0,0.4,0.1,-0.2,0.3,0.1,0.2,-0.1,0.3,0.1,-0.1,0.4,0.1,0.0,0.2,
0.1,-0.1,0.2,0.1,0.3,0.0,0.1,0.2,-0.1,0.3,0.1,0.1,-0.1,0.2,0.1,-0.2,0.2,0.1,0.0,0.2,0.1,-0.1,0.3,0.1,0.0,0.2,
0.1,0.2,0.0,0.1,0.2,-0.1,0.1,0.2,0.0,0.1,0.3,-0.2,0.1,0.1,0.0,0.2,0.1,-0.1,0.2,0.1,0.0,0.1,-0.2,0.2,0.1,0.1,
0.0,0.1,0.2,-0.1,0.1,0.1,0.2,0.0,0.1,-0.2,0.1,0.2,0.1,0.0,0.2,0.1,-0.1,0.1,0.1,0.2,0.0,-0.2,0.1,0.1,0.0,0.2,
0.1,0.2,0.0,0.1,-0.2,0.1,0.2,0.0,0.1,0.2,-0.1,0.1,0.1,0.0,0.2,0.1,0.0,0.1,-0.2,0.2,0.1,0.0,0.1,0.2,-0.1,0.1,
0.1,0.0,0.2,0.1,-0.1,0.2,0.1,0.0,0.1,0.3,-0.2,0.1,0.1,0.2,0.0,0.3,0.1,-0.1,0.1,0.2,0.0,0.1,0.2,-0.2,0.1,0.5,
0.2,0.1,-0.1,0.3,0.1,0.1,-0.2,0.2,0.1,-0.6,0.1,0.3,0.0,0.2,0.1,-0.2,0.2,0.3,0.0,0.1,0.3,-0.1,0.2,0.1,0.0,0.3,
0.2,0.0,0.3,0.1,-0.2,0.2,0.1,0.3,-0.1,0.1,-0.2,0.2,0.1,-0.3,0.1,0.0,-0.1,0.5,0.0,0.2,-0.2,0.1,-0.1,0.2,-0.3,-0.2
];

// ---- drawing ----
const BLUE = "#1a72cc";
const INK = "#262626";
const FONT = "'Liberation Sans', Arial, Helvetica, sans-serif";
const panelTops = [60, 247, 434, 622];
const allSeries = [[northA, northB], [eastA, eastB], [upA, upB], [total3dA, total3dB]];

function weekly(a, b) {
  const rows = [];
  a.forEach((v, i) => {
    rows.push({t: startYear + (2 * i + 0.5) / weeksPerYear, v});
    rows.push({t: startYear + (2 * i + 1.5) / weeksPerYear, v: b[i]});
  });
  return rows;
}

function makePanel(data, label) {
  const visible = data.filter(d => Math.abs(d.v) <= 2.05);
  return Plot.plot({
    width: 1536, height: 178,
    marginLeft: 91, marginRight: 12, marginTop: 10, marginBottom: 48,
    x: {domain: [2000, 2021], label: null},
    y: {domain: [-2, 2], label: null},
    style: {fontFamily: FONT, fontSize: "27px", color: INK, background: "transparent", overflow: "visible"},
    marks: [
      Plot.gridX(xTicks, {stroke: "#000", strokeOpacity: 0.13, strokeWidth: 1}),
      Plot.gridY(yTicks, {stroke: "#000", strokeOpacity: 0.13, strokeWidth: 1}),
      Plot.lineY(data, {x: "t", y: "v", stroke: BLUE, strokeWidth: 1, clip: true}),
      Plot.dot(visible, {x: "t", y: "v", symbol: "square", r: 4.6, fill: BLUE, stroke: "none"}),
      Plot.axisX({anchor: "bottom", ticks: xTicks, tickSize: -14, tickFormat: () => "", stroke: INK, label: null}),
      Plot.axisX({anchor: "top", ticks: xTicks, tickSize: -14, tickFormat: () => "", stroke: INK, label: null}),
      Plot.axisY({anchor: "left", ticks: yTicks, tickSize: -14, tickFormat: () => "", stroke: INK, label: null}),
      Plot.axisY({anchor: "right", ticks: yTicks, tickSize: -14, tickFormat: () => "", stroke: INK, label: null}),
      Plot.frame({stroke: INK, strokeWidth: 1.5}),
      Plot.axisX({anchor: "bottom", ticks: xTicks, tickSize: 0, tickPadding: 23, tickFormat: d => String(d), fontSize: 27, fill: INK, label: null}),
      Plot.axisY({anchor: "left", ticks: yTicks, tickSize: 0, tickPadding: 11, tickFormat: d => String(d), fontSize: 27, fill: INK, label: null}),
      Plot.text([label], {text: d => d, frameAnchor: "left", rotate: -90, dx: -52, textAnchor: "middle", lineAnchor: "bottom", fontSize: 30, fill: INK})
    ]
  });
}

const host = document.getElementById("charts");
allSeries.forEach(([a, b], k) => {
  const div = document.createElement("div");
  div.className = "panel";
  div.style.top = panelTops[k] + "px";
  div.appendChild(makePanel(weekly(a, b), panelLabels[k]));
  host.appendChild(div);
});
document.querySelector("#legend span").textContent = seriesName;
</script>
</body></html>
